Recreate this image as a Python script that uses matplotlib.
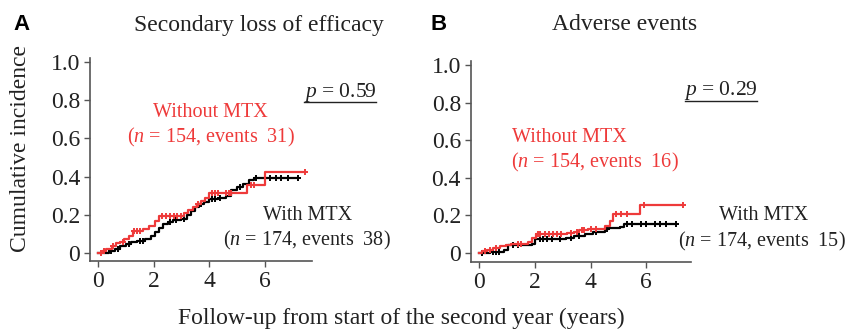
import numpy as np
import matplotlib
matplotlib.use("Agg")
import matplotlib.pyplot as plt
from matplotlib.lines import Line2D

plt.rcParams['font.family'] = ['Liberation Serif', 'DejaVu Serif']
plt.rcParams['mathtext.fontset'] = 'custom'
plt.rcParams['mathtext.rm'] = 'Liberation Serif'
plt.rcParams['mathtext.it'] = 'Liberation Serif:italic'

RED = '#ee3a3a'
TXT = '#222222'

# ---- data: panel A (secondary loss of efficacy) ----
a_red_t = [0, 0.15, 0.3, 0.5, 0.65, 0.8, 0.95, 1.1, 1.25, 1.6, 1.85, 2.05, 2.2, 3.1, 3.25, 3.4,
           3.55, 3.7, 3.85, 4.0, 5.35, 6.0, 7.45]
a_red_ci = [0, 0.01, 0.02, 0.035, 0.05, 0.06, 0.075, 0.09, 0.115, 0.125, 0.14, 0.165, 0.195, 0.21,
            0.225, 0.24, 0.255, 0.27, 0.29, 0.315, 0.355, 0.425, 0.425]
a_red_cens = [0.1, 0.2, 0.55, 0.9, 1.3, 1.4, 1.5, 2.3, 2.45, 2.6, 2.75, 2.85, 3.0, 3.6, 4.1, 4.2,
              4.3, 4.6, 4.7, 4.8, 5.5, 5.6, 7.45]

a_blk_t = [0, 0.4, 0.6, 0.8, 1.0, 1.2, 1.4, 1.7, 1.9, 2.05, 2.2, 2.35, 2.5, 2.7, 3.0, 3.2, 3.35,
           3.5, 3.65, 3.8, 4.0, 4.3, 4.6, 4.8, 5.0, 5.2, 5.45, 5.6, 7.2]
a_blk_ci = [0, 0.01, 0.02, 0.035, 0.045, 0.055, 0.065, 0.075, 0.09, 0.11, 0.13, 0.15, 0.16, 0.17,
            0.18, 0.2, 0.22, 0.24, 0.255, 0.265, 0.28, 0.29, 0.3, 0.33, 0.345, 0.36, 0.38, 0.39, 0.39]
a_blk_cens = [0.45, 0.7, 1.1, 1.5, 1.6, 2.6, 2.8, 3.1, 3.7, 4.1, 4.2, 4.4, 5.1, 5.7, 6.0, 6.2, 6.4,
              6.6, 6.85, 7.2]

# ---- data: panel B (adverse events) ----
b_red_t = [0, 0.1, 0.3, 0.5, 0.75, 0.95, 1.15, 1.75, 1.9, 2.05, 3.15, 3.4, 3.6, 3.9, 4.5, 4.7,
           4.8, 5.77, 7.32]
b_red_ci = [0, 0.01, 0.018, 0.025, 0.035, 0.043, 0.05, 0.06, 0.08, 0.1, 0.105, 0.11, 0.12, 0.13,
            0.145, 0.17, 0.205, 0.255, 0.255]
b_red_cens = [0.2, 0.4, 0.6, 1.4, 1.5, 2.1, 2.2, 2.35, 2.5, 2.65, 2.8, 2.95, 3.3, 3.5, 3.7, 3.75,
              4.0, 4.2, 4.9, 5.1, 5.3, 5.9, 7.32]

b_blk_t = [0, 0.4, 0.9, 1.05, 1.9, 2.0, 3.1, 3.4, 3.8, 4.1, 4.5, 4.65, 5.05, 5.2, 7.08]
b_blk_ci = [0, 0.007, 0.016, 0.043, 0.05, 0.072, 0.08, 0.09, 0.1, 0.113, 0.13, 0.135, 0.14, 0.155,
            0.155]
b_blk_cens = [0.1, 0.5, 0.6, 0.7, 1.2, 1.4, 2.2, 2.3, 2.45, 2.6, 2.9, 3.3, 3.6, 4.2, 4.6, 5.3, 5.5,
              5.8, 6.0, 6.3, 6.5, 6.7, 7.08]

yticks = [0, 0.2, 0.4, 0.6, 0.8, 1.0]
ytick_labels = ['0', '0.2', '0.4', '0.6', '0.8', '1.0']
xticks = [0, 2, 4, 6]


def step_val(t, ci, x):
    t = np.asarray(t)
    ci = np.asarray(ci)
    idx = np.searchsorted(t, x, side='right') - 1
    return ci[np.clip(idx, 0, len(ci) - 1)]


def draw_curve(ax, t, ci, cens, color):
    ax.step(t, ci, where='post', color=color, lw=1.6)
    ax.plot(cens, step_val(t, ci, cens), ls='none', marker='+', ms=5, mew=1.4, color=color)


def style_axes(ax, xlim, ylim):
    ax.set_xlim(*xlim)
    ax.set_ylim(*ylim)
    for s in ['top', 'right']:
        ax.spines[s].set_visible(False)
    for s in ['left', 'bottom']:
        ax.spines[s].set_color('#555555')
        ax.spines[s].set_linewidth(1.2)
    ax.set_yticks(yticks)
    ax.set_yticklabels(ytick_labels)
    ax.set_xticks(xticks)
    ax.tick_params(axis='both', direction='out', length=4, width=1, color='#555555',
                   labelsize=17, labelcolor=TXT, pad=3)
    ax.spines['left'].set_bounds(ylim[0], 1.02)


fig = plt.figure(figsize=(8.48, 3.31), dpi=100)
W, H = 848.0, 331.0

axA = fig.add_axes([90 / W, 1 - 261 / H, 222 / W, 203 / H])
draw_curve(axA, a_blk_t, a_blk_ci, a_blk_cens, 'black')
draw_curve(axA, a_red_t, a_red_ci, a_red_cens, RED)
style_axes(axA, (-0.29, 7.7), (-0.042, 1.02))
axA.set_ylabel('Cumulative incidence', fontsize=17, color=TXT)
axA.yaxis.set_label_coords((31 - 90) / 222, (261 - 148) / 203)

axB = fig.add_axes([470.7 / W, 1 - 262 / H, 220 / W, 202 / H])
draw_curve(axB, b_blk_t, b_blk_ci, b_blk_cens, 'black')
draw_curve(axB, b_red_t, b_red_ci, b_red_cens, RED)
style_axes(axB, (-0.3, 7.59), (-0.048, 1.027))


def ftext(x, y, s, **kw):
    kw.setdefault('ha', 'center')
    kw.setdefault('va', 'center')
    kw.setdefault('color', TXT)
    return fig.text(x / W, 1 - y / H, s, **kw)


# panel letters and titles
ftext(21, 25, 'A', fontsize=16, fontweight='bold', family='Liberation Sans', color='black')
ftext(439, 25, 'B', fontsize=16, fontweight='bold', family='Liberation Sans', color='black')
ftext(259, 25, 'Secondary loss of efficacy', fontsize=17)
ftext(625, 25, 'Adverse events', fontsize=17)

# p-values with underline
ftext(340, 92, r'$\it{p}$ = 0.59', fontsize=15.5)
fig.add_artist(Line2D([304 / W, 376 / W], [1 - 102 / H, 1 - 102 / H], color=TXT, lw=1))
ftext(721, 91, r'$\it{p}$ = 0.29', fontsize=15.5)
fig.add_artist(Line2D([685 / W, 757 / W], [1 - 101 / H, 1 - 101 / H], color=TXT, lw=1))

# group labels
ftext(210, 113, 'Without MTX', fontsize=14.5, color=RED)
ftext(211, 137, r'($\it{n}$ = 154, events  31)', fontsize=14.5, color=RED)
ftext(308, 216, 'With MTX', fontsize=14.5)
ftext(307, 240, r'($\it{n}$ = 174, events  38)', fontsize=14.5)

ftext(569, 137, 'Without MTX', fontsize=14.5, color=RED)
ftext(595, 162, r'($\it{n}$ = 154, events  16)', fontsize=14.5, color=RED)
ftext(764, 216, 'With MTX', fontsize=14.5)
ftext(762, 241, r'($\it{n}$ = 174, events  15)', fontsize=14.5)

ftext(401, 318, 'Follow-up from start of the second year (years)', fontsize=17)

fig.savefig('out.png', dpi=100)
